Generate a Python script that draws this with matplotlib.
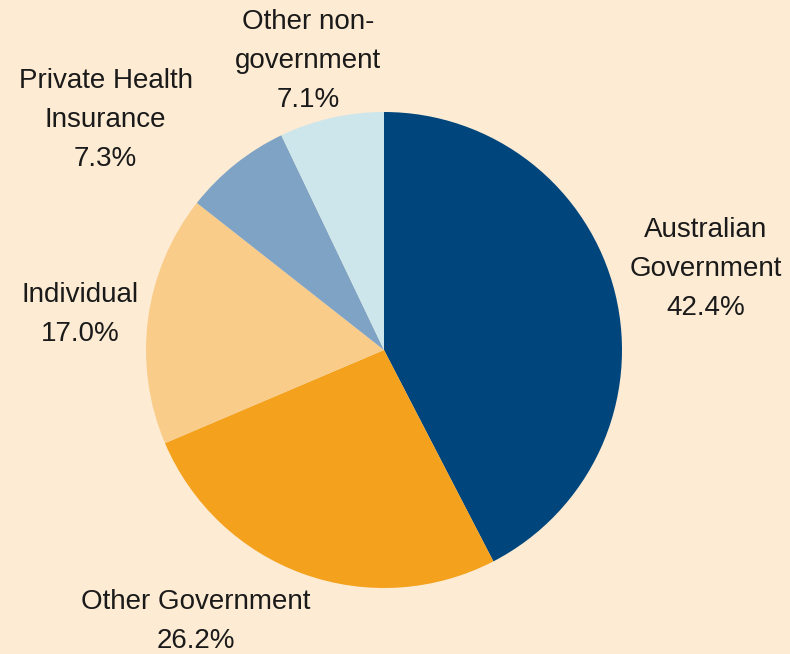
import matplotlib
matplotlib.use("Agg")
import matplotlib.pyplot as plt

plt.rcParams['font.family'] = ['Liberation Sans', 'DejaVu Sans']

categories = ["Australian\nGovernment", "Other Government", "Individual",
              "Private Health\nInsurance", "Other non-\ngovernment"]
shares = [42.4, 26.2, 17.0, 7.3, 7.1]
colors = ["#00457C", "#F4A21E", "#F9CC8A", "#7FA3C4", "#CDE6EC"]

# label anchor points (axes data units, pie radius = 1)
label_pos = [(1.353, 0.34), (-0.79, -1.14), (-1.277, 0.15),
             (-1.17, 0.966), (-0.319, 1.215)]

bg = "#FDEBD3"
fig = plt.figure(figsize=(7.9, 6.54), dpi=100)
fig.patch.set_facecolor(bg)
ax = fig.add_axes([146 / 790, 66 / 654, 476 / 790, 476 / 654])
ax.set_facecolor(bg)

ax.pie(shares, colors=colors, startangle=90, counterclock=False,
       radius=1, wedgeprops=dict(linewidth=0))

for name, val, (x, y) in zip(categories, shares, label_pos):
    ax.text(x, y, f"{name}\n{val:.1f}%", ha="center", va="center",
            fontsize=20, color="#1a1a1a", linespacing=1.65)

ax.set_xlim(-1, 1)
ax.set_ylim(-1, 1)
ax.set_aspect("equal")
ax.axis("off")

fig.savefig("out.png", dpi=100, facecolor=bg)
